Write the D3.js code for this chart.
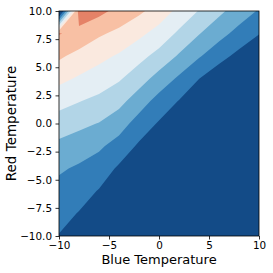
<!DOCTYPE html>
<html>
<head>
<meta charset="utf-8">
<script src="https://cdn.jsdelivr.net/npm/d3@7"></script>
<style>
  body { margin: 0; background: #fff; }
  svg { display: block; }
  text { font-family: "DejaVu Sans", sans-serif; fill: #000; }
</style>
</head>
<body>
<div id="chart"></div>
<script>
// grid columns (Blue Temperature) and rows (Red Temperature)
var blueTemps = [-10, -8, -6, -4, -2, 0, 2, 4, 6, 8, 10];
var redTemps = [10, 8, 6, 4, 2, 0, -2, -4, -6, -8, -10];

// estimated band value at each grid point, one array per row (top row first)
var rowRed10  = [-1, 7.5, 7.3, 6.68, 6.19, 5.57, 4.73, 3.95, 3.22, 2.54, 1.91];
var rowRed8   = [7.05, 6.75, 6.14, 5.77, 5.24, 4.62, 3.82, 3.05, 2.35, 1.67, 1.04];
var rowRed6   = [6.17, 5.68, 5.29, 4.88, 4.32, 3.67, 2.89, 2.10, 1.37, 0.71, 0.17];
var rowRed4   = [5.27, 4.88, 4.52, 4.12, 3.45, 2.63, 1.84, 1.02, 0.32, -0.24, -0.7];
var rowRed2   = [4.36, 4.04, 3.76, 3.31, 2.49, 1.63, 0.96, -0.08, -0.74, -1.19, -1.57];
var rowRed0   = [3.52, 3.24, 2.96, 2.44, 1.59, 0.90, 0.07, -1.17, -1.79, -2.14, -2.43];
var rowRedM2  = [2.77, 2.5, 2.16, 1.62, 0.85, 0.17, -0.82, -2.26, -2.84, -3.1, -3.3];
var rowRedM4  = [2.13, 1.86, 1.53, 0.85, 0.11, -0.56, -1.71, -3.36, -3.89, -4.05, -4.17];
var rowRedM6  = [1.70, 1.41, 0.94, 0.08, -0.63, -1.30, -2.6, -4.45, -4.95, -5.0, -5.04];
var rowRedM8  = [1.33, 0.95, 0.35, -0.69, -1.37, -2.03, -3.49, -5.54, -6.0, -5.95, -5.91];
var rowRedM10 = [0.96, 0.5, -0.24, -1.46, -2.11, -2.76, -4.38, -6.6, -7.05, -6.9, -6.78];

var levels = [-100, 1, 2, 3, 4, 5, 6, 7, 8, 9];
var xTicks = [-10, -5, 0, 5, 10];
var yTicks = [-10, -7.5, -5, -2.5, 0, 2.5, 5, 7.5, 10];

var W = 273, H = 273;
var margin = {left: 59, right: 14, top: 11, bottom: 37};

var x = d3.scaleLinear().domain([-10, 10]).range([margin.left, W - margin.right]);
var y = d3.scaleLinear().domain([-10, 10]).range([H - margin.bottom, margin.top]);

// RdBu reversed, linear between the 11 brewer stops (like matplotlib)
var rdbu = ["#053061", "#2166ac", "#4393c3", "#92c5de", "#d1e5f0", "#f7f7f7",
            "#fddbc7", "#f4a582", "#d6604d", "#b2182b", "#67001f"];
var cmap = d3.scaleLinear().domain(d3.range(11).map(function(i){ return i / 10; })).range(rdbu);

var n = blueTemps.length, m = redTemps.length;
var rows = [rowRed10, rowRed8, rowRed6, rowRed4, rowRed2, rowRed0, rowRedM2, rowRedM4, rowRedM6, rowRedM8, rowRedM10];
var values = [].concat.apply([], rows);

// contour grid coords -> data coords (sample i sits at i + 0.5)
var gx = d3.scaleLinear().domain([0.5, n - 0.5]).range([blueTemps[0], blueTemps[n - 1]]);
var gy = d3.scaleLinear().domain([0.5, m - 0.5]).range([redTemps[0], redTemps[m - 1]]);

var proj = d3.geoTransform({
  point: function(cx, cy) { this.stream.point(x(gx(cx)), y(gy(cy))); }
});
var path = d3.geoPath(proj);

var contours = d3.contours().size([n, m]).thresholds(levels)(values);

var svg = d3.select("#chart").append("svg")
  .attr("width", W)
  .attr("height", H);

svg.append("defs").append("clipPath").attr("id", "plotclip")
  .append("rect")
  .attr("x", x(-10)).attr("y", y(10))
  .attr("width", x(10) - x(-10)).attr("height", y(-10) - y(10));

svg.append("g")
  .attr("clip-path", "url(#plotclip)")
  .selectAll("path")
  .data(contours)
  .enter().append("path")
  .attr("d", path)
  .attr("fill", function(d, i) { return cmap(i * 0.1 + 0.05); });

// axes
var xAxis = svg.append("g")
  .attr("transform", "translate(0," + y(-10) + ")")
  .call(d3.axisBottom(x).tickValues(xTicks).tickSize(3.5).tickPadding(2.5));
var yAxis = svg.append("g")
  .attr("transform", "translate(" + x(-10) + ",0)")
  .call(d3.axisLeft(y).tickValues(yTicks).tickSize(3.5).tickPadding(3.5).tickFormat(d3.format(".1f")));

[xAxis, yAxis].forEach(function(g) {
  g.attr("font-family", null).attr("font-size", null);
  g.select(".domain").remove();
  g.selectAll(".tick line").attr("stroke", "#000").attr("stroke-width", 0.8);
  g.selectAll(".tick text").style("font-size", "10.4px");
});

// spines
svg.append("rect")
  .attr("x", x(-10)).attr("y", y(10))
  .attr("width", x(10) - x(-10)).attr("height", y(-10) - y(10))
  .attr("fill", "none")
  .attr("stroke", "#000")
  .attr("stroke-width", 0.8);

svg.append("text")
  .attr("x", (x(-10) + x(10)) / 2)
  .attr("y", 264)
  .attr("text-anchor", "middle")
  .style("font-size", "13px")
  .text("Blue Temperature");

svg.append("text")
  .attr("transform", "translate(16," + (y(-10) + y(10)) / 2 + ") rotate(-90)")
  .attr("text-anchor", "middle")
  .style("font-size", "13.5px")
  .text("Red Temperature");
</script>
</body>
</html>
